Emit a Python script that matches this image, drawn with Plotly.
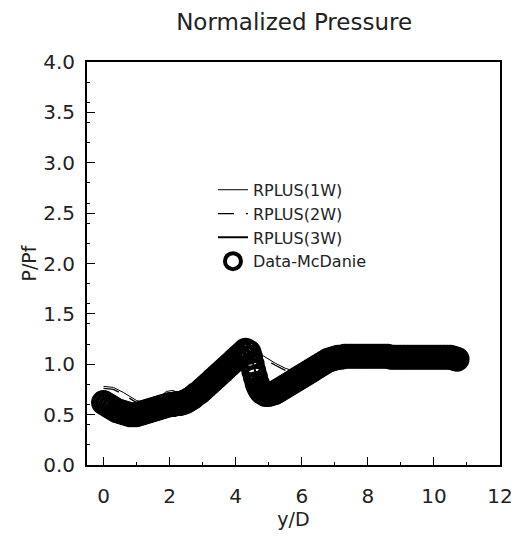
import plotly.graph_objects as go

# Data
data_x = [0.0, 0.1, 0.2, 0.3, 0.4, 0.5, 0.6, 0.7, 0.8, 0.9, 1.0, 1.1, 1.2, 1.3, 1.4, 1.5,
          1.6, 1.7, 1.8, 1.9, 2.0, 2.1, 2.2, 2.3, 2.4, 2.5, 2.6, 2.7, 2.8, 2.9, 3.0, 3.1,
          3.2, 3.3, 3.4, 3.5, 3.6, 3.7, 3.8, 3.9, 4.0, 4.1, 4.2, 4.3, 4.4, 4.45, 4.5, 4.55,
          4.6, 4.65, 4.7, 4.75, 4.8, 4.9, 5.0, 5.1, 5.2, 5.3, 5.4, 5.5, 5.6, 5.7, 5.8, 5.9,
          6.0, 6.1, 6.2, 6.3, 6.4, 6.5, 6.6, 6.7, 6.8, 6.9, 7.0, 7.1, 7.2, 7.3, 7.4, 7.5,
          7.6, 7.7, 7.8, 7.9, 8.0, 8.1, 8.2, 8.3, 8.4, 8.5, 8.6, 8.7, 8.8, 8.9, 9.0, 9.1,
          9.2, 9.3, 9.4, 9.5, 9.6, 9.7, 9.8, 9.9, 10.0, 10.1, 10.2, 10.3, 10.4, 10.5, 10.6, 10.7]
data_y = [0.62, 0.60, 0.58, 0.56, 0.54, 0.53, 0.52, 0.51, 0.50, 0.50, 0.50, 0.51, 0.52, 0.53, 0.54, 0.55,
          0.56, 0.57, 0.58, 0.59, 0.60, 0.60, 0.61, 0.61, 0.62, 0.63, 0.65, 0.67, 0.70, 0.72, 0.75, 0.78,
          0.81, 0.84, 0.87, 0.90, 0.93, 0.96, 0.99, 1.02, 1.05, 1.08, 1.11, 1.14, 1.12, 1.07, 1.00, 0.93,
          0.87, 0.81, 0.77, 0.74, 0.72, 0.70, 0.70, 0.71, 0.72, 0.74, 0.76, 0.78, 0.80, 0.82, 0.84, 0.86,
          0.88, 0.90, 0.92, 0.94, 0.96, 0.98, 1.00, 1.02, 1.04, 1.05, 1.06, 1.07, 1.07, 1.08, 1.08, 1.08,
          1.08, 1.08, 1.08, 1.08, 1.08, 1.08, 1.08, 1.08, 1.08, 1.08, 1.08, 1.07, 1.07, 1.07, 1.07, 1.07,
          1.07, 1.07, 1.07, 1.07, 1.07, 1.07, 1.07, 1.07, 1.07, 1.07, 1.07, 1.07, 1.07, 1.07, 1.06, 1.05]

r1_x = [0.0, 0.3, 0.6, 1.0, 1.4, 1.7, 1.9, 2.1, 2.3, 2.6, 3.0, 3.5, 4.0, 4.2, 4.4, 4.8, 5.2, 5.5, 5.8, 6.2, 6.6, 7.0, 8.0, 9.0, 10.0, 10.7]
r1_y = [0.78, 0.77, 0.72, 0.64, 0.61, 0.67, 0.73, 0.74, 0.71, 0.69, 0.78, 0.93, 1.08, 1.14, 1.13, 1.09, 1.01, 0.96, 0.93, 0.94, 0.99, 1.05, 1.08, 1.07, 1.07, 1.06]
r2_x = [0.0, 0.3, 0.6, 1.0, 1.4, 1.7, 1.9, 2.1, 2.3, 2.6, 3.0, 3.5, 4.0, 4.2, 4.4, 4.8, 5.2, 5.5, 5.8, 6.2, 6.6, 7.0, 8.0, 9.0, 10.0, 10.7]
r2_y = [0.76, 0.75, 0.70, 0.62, 0.59, 0.65, 0.71, 0.72, 0.69, 0.68, 0.77, 0.92, 1.07, 1.13, 1.12, 1.07, 0.99, 0.94, 0.91, 0.93, 0.98, 1.04, 1.08, 1.07, 1.07, 1.06]
r3_x = [0.0, 0.3, 0.6, 1.0, 1.4, 1.8, 2.0, 2.2, 2.6, 3.0, 3.5, 4.0, 4.2, 4.35, 4.5, 4.6, 4.7, 4.8, 5.0, 5.5, 6.0, 6.5, 7.0, 8.0, 9.0, 10.0, 10.7]
r3_y = [0.70, 0.66, 0.60, 0.55, 0.56, 0.62, 0.64, 0.64, 0.66, 0.75, 0.90, 1.05, 1.12, 1.14, 1.04, 0.92, 0.82, 0.75, 0.71, 0.78, 0.88, 0.98, 1.06, 1.08, 1.07, 1.07, 1.06]

x_ticks = [0, 2, 4, 6, 8, 10, 12]
y_ticks = [0.0, 0.5, 1.0, 1.5, 2.0, 2.5, 3.0, 3.5, 4.0]

FONT = "DejaVu Sans"

fig = go.Figure()
fig.add_trace(go.Scatter(x=r1_x, y=r1_y, mode="lines", name="RPLUS(1W)",
                         line=dict(color="black", width=1)))
fig.add_trace(go.Scatter(x=r2_x, y=r2_y, mode="lines", name="RPLUS(2W)",
                         line=dict(color="black", width=1.3, dash="16px,12px")))
fig.add_trace(go.Scatter(x=r3_x, y=r3_y, mode="lines", name="RPLUS(3W)",
                         line=dict(color="black", width=2)))
fig.add_trace(go.Scatter(x=data_x, y=data_y, mode="markers", name="Data-McDanie",
                         marker=dict(symbol="circle-open", size=21, color="black",
                                     line=dict(width=4, color="black"))))

axis_common = dict(showgrid=False, zeroline=False, showline=True, linecolor="black",
                   linewidth=2, mirror=True, ticks="inside", ticklen=8, tickwidth=1,
                   tickcolor="black", automargin=False,
                   tickfont=dict(family=FONT, size=20, color="#222"),
                   minor=dict(ticks="inside", ticklen=3, tickcolor="black"))

fig.update_xaxes(range=[-0.5, 12], tickvals=x_ticks, ticklabelstandoff=12,
                 title=dict(text="y/D", font=dict(family=FONT, size=19, color="#222"), standoff=0),
                 **axis_common)
fig.update_yaxes(range=[0, 4], tickvals=y_ticks, tickformat=".1f", ticklabelstandoff=6,
                 title=dict(text="P/Pf", font=dict(family=FONT, size=19, color="#222"), standoff=2),
                 **axis_common)

fig.update_layout(
    width=525, height=538,
    margin=dict(l=79, r=33, t=54, b=81),
    paper_bgcolor="white", plot_bgcolor="white",
    title=dict(text="Normalized Pressure", x=0.545, xanchor="center", y=0.974, yanchor="middle",
               font=dict(family=FONT, size=23, color="#222")),
    legend=dict(x=0.305, y=0.725, xanchor="left", yanchor="top", bgcolor="rgba(0,0,0,0)",
                font=dict(family=FONT, size=16, color="#222"), itemwidth=30,
                tracegroupgap=0),
    showlegend=True,
)

fig.write_html("out.html")
